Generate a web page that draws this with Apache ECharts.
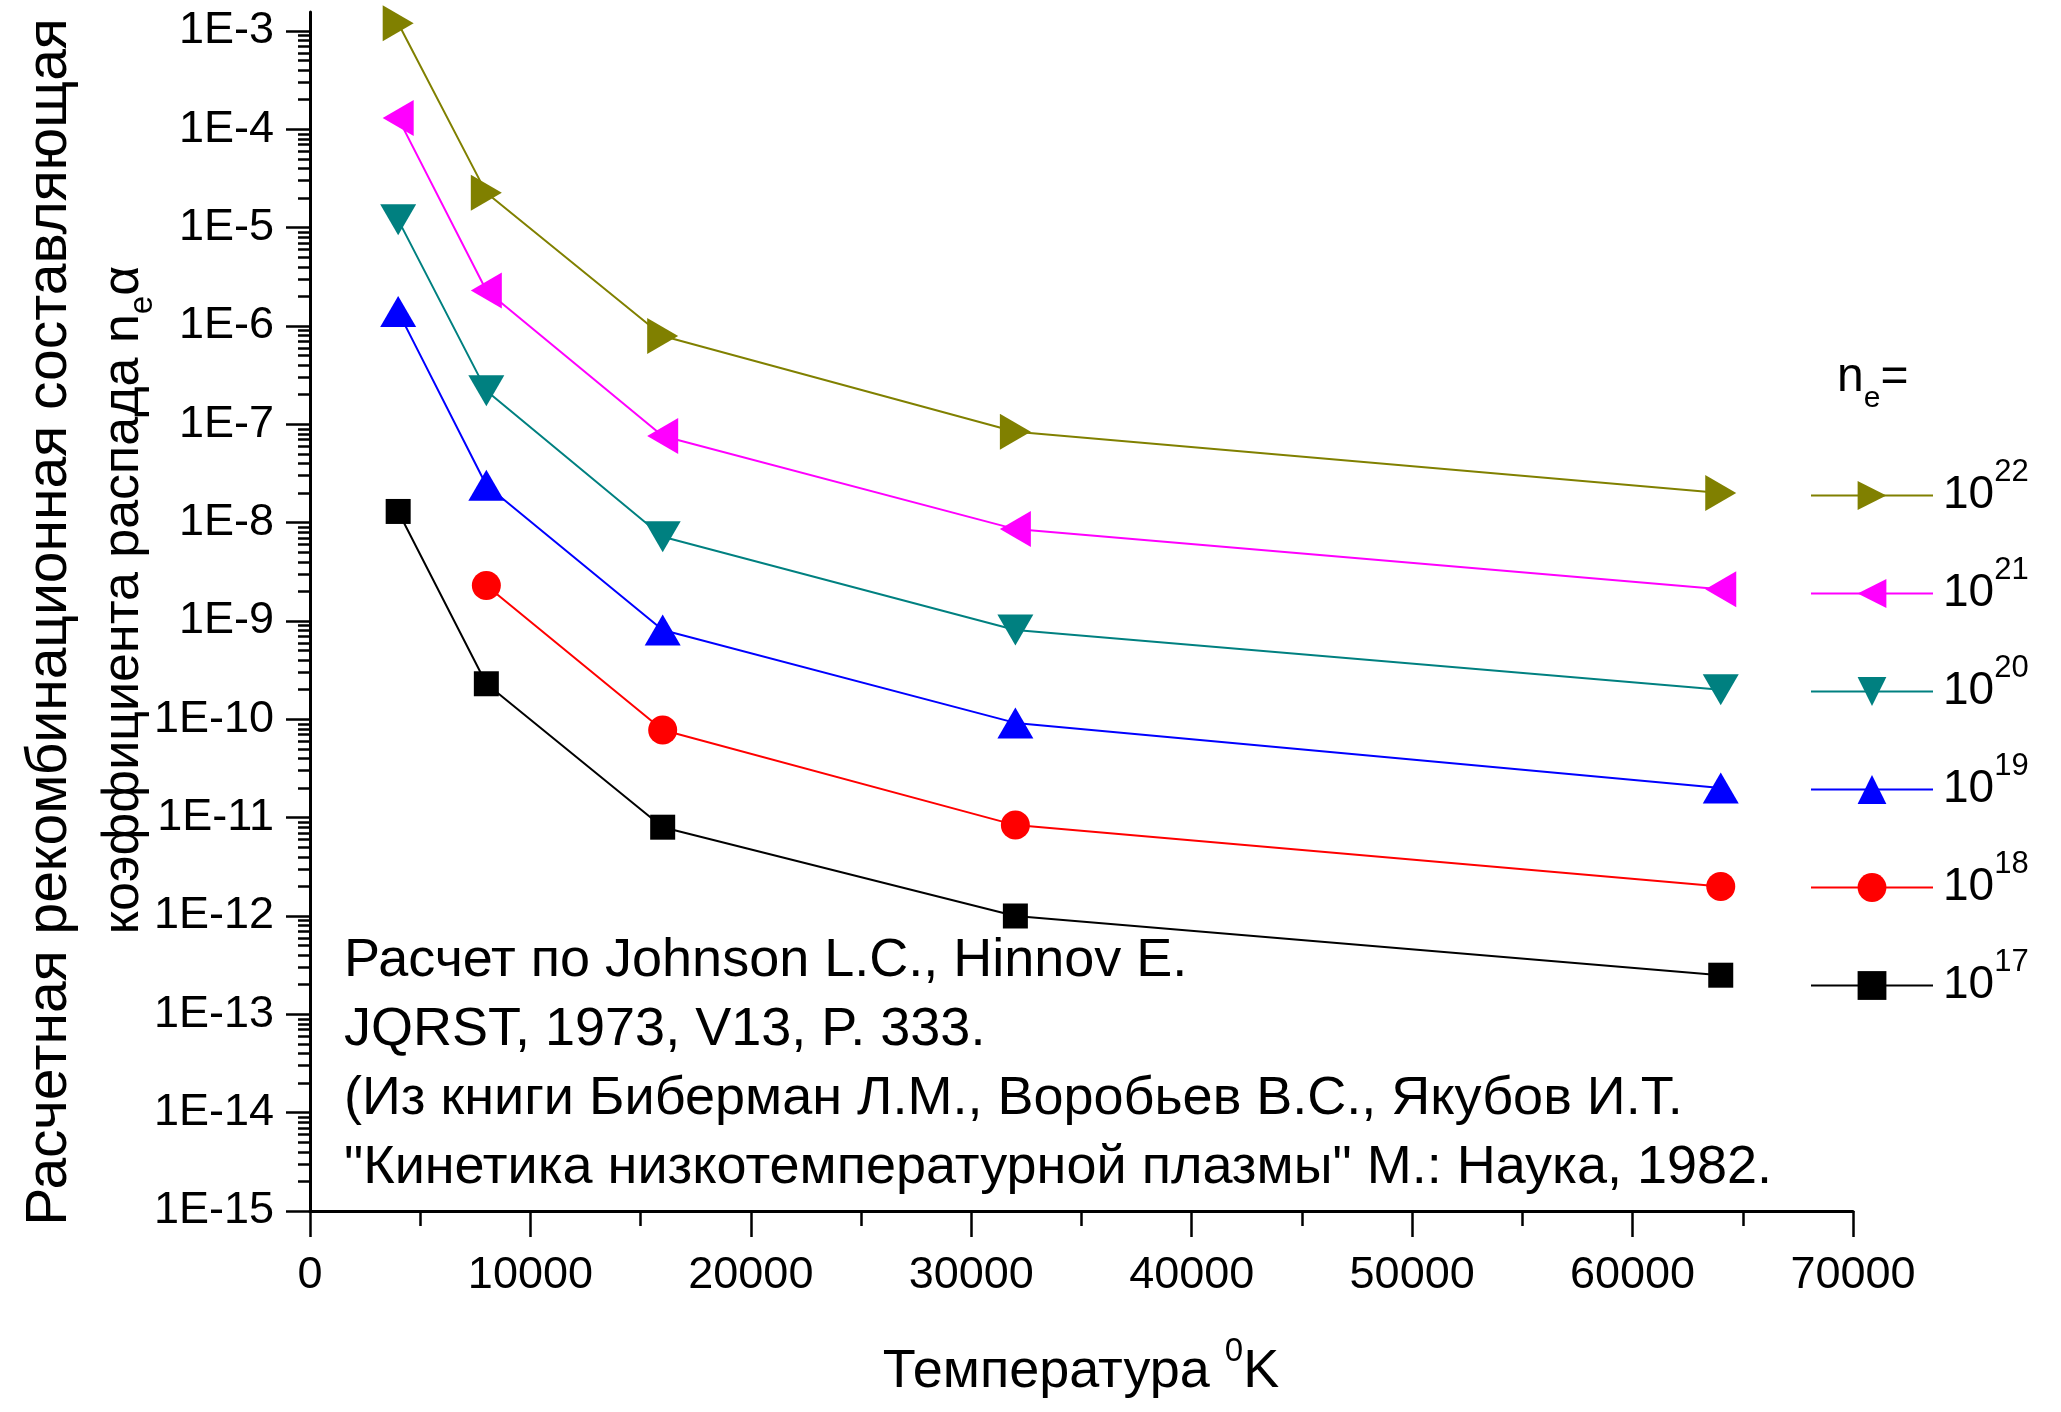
<!DOCTYPE html>
<html>
<head>
<meta charset="utf-8">
<title>Рекомбинационная составляющая коэффициента распада</title>
<script src="https://cdn.jsdelivr.net/npm/echarts@6/dist/echarts.min.js"></script>
<style>
  html, body { margin: 0; padding: 0; background: #ffffff; }
  #chart { width: 2061px; height: 1412px; }
</style>
</head>
<body>
<div id="chart"></div>
<script>
// Temperatures, K
const temperatures = [4000, 8000, 16000, 32000, 64000];

// Recombination component n_e*alpha for each electron density (exponent of n_e in the name)
const ne22 = [1.2e-3, 2.26e-5, 7.9e-7, 8.4e-8, 2.0e-8];
const ne21 = [1.3e-4, 2.3e-6, 7.6e-8, 8.6e-9, 2.1e-9];
const ne20 = [1.2e-5, 2.2e-7, 7.2e-9, 8.1e-10, 2.0e-10];
const ne19 = [1.4e-6, 2.4e-8, 8.1e-10, 9.2e-11, 2.0e-11];
const ne18 = [null, 2.3e-9, 7.8e-11, 8.4e-12, 2.0e-12];
const ne17 = [1.3e-8, 2.3e-10, 8.0e-12, 1.0e-12, 2.5e-13];

const densityExponents = ['22', '21', '20', '19', '18', '17'];

// Axis ticks
const yMajorTicks = [1e-15, 1e-14, 1e-13, 1e-12, 1e-11, 1e-10, 1e-9, 1e-8, 1e-7, 1e-6, 1e-5, 1e-4, 1e-3];
const yTickLabels = ['1E-15', '1E-14', '1E-13', '1E-12', '1E-11', '1E-10', '1E-9', '1E-8', '1E-7', '1E-6', '1E-5', '1E-4', '1E-3'];
const xTickLabels = ['0', '10000', '20000', '30000', '40000', '50000', '60000', '70000'];

const annotationLines = [
  'Расчет по Johnson L.C., Hinnov E.',
  'JQRST, 1973, V13, P. 333.',
  '(Из книги Биберман Л.М., Воробьев В.С., Якубов И.Т.',
  '"Кинетика низкотемпературной плазмы" М.: Наука, 1982.'
];

const FONT = "'Liberation Sans', Arial, Helvetica, sans-serif";
const Y_MIN = 1e-15;
const Y_MAX = 1.56e-3;

// Minor log ticks at 2..9 x 10^n
const yMinorTicks = [];
yMajorTicks.forEach(function (p) {
  for (let m = 2; m <= 9; m++) {
    const v = m * p;
    if (v < Y_MAX) yMinorTicks.push(v);
  }
});

function yLabel(v) {
  const lv = Math.log10(v);
  for (let i = 0; i < yMajorTicks.length; i++) {
    if (Math.abs(Math.log10(yMajorTicks[i]) - lv) < 1e-6) return yTickLabels[i];
  }
  return '';
}

const seriesStyle = {
  '22': { values: ne22, color: '#808000', symbol: 'triangle', rotate: -90, size: [36, 31] },
  '21': { values: ne21, color: '#ff00ff', symbol: 'triangle', rotate: 90, size: [36, 31] },
  '20': { values: ne20, color: '#008080', symbol: 'triangle', rotate: 180, size: [36, 31] },
  '19': { values: ne19, color: '#0000ff', symbol: 'triangle', rotate: 0, size: [36, 31] },
  '18': { values: ne18, color: '#ff0000', symbol: 'circle', rotate: 0, size: 29 },
  '17': { values: ne17, color: '#000000', symbol: 'rect', rotate: 0, size: 25 }
};

const series = densityExponents.map(function (exp) {
  const s = seriesStyle[exp];
  const data = [];
  temperatures.forEach(function (t, i) {
    if (s.values[i] != null) data.push([t, s.values[i]]);
  });
  return {
    name: exp,
    type: 'line',
    xAxisIndex: 0,
    yAxisIndex: 0,
    data: data,
    symbol: s.symbol,
    symbolSize: s.size,
    symbolRotate: s.rotate,
    showAllSymbol: true,
    clip: false,
    color: s.color,
    itemStyle: { color: s.color, opacity: 1 },
    lineStyle: { color: s.color, width: 2 },
    emphasis: { disabled: true },
    z: 3
  };
});

const chart = echarts.init(document.getElementById('chart'), null, { renderer: 'canvas' });

const axisBlack = { color: '#000000', width: 3 };
const tickBlack = { color: '#000000', width: 2.5 };

const option = {
  animation: false,
  backgroundColor: '#ffffff',
  textStyle: { fontFamily: FONT },
  grid: { left: 310, right: 208, top: 12, bottom: 201, containLabel: false, outerBoundsMode: 'none' },
  xAxis: {
    type: 'value',
    min: 0,
    max: 70000,
    interval: 10000,
    axisLine: { show: true, onZero: false, lineStyle: axisBlack },
    axisTick: { show: true, inside: false, length: 26, lineStyle: tickBlack },
    minorTick: { show: true, splitNumber: 2, length: 15, lineStyle: tickBlack },
    axisLabel: {
      margin: 42,
      fontSize: 45,
      fontFamily: FONT,
      color: '#000000',
      formatter: function (v) { return xTickLabels[Math.round(v / 10000)] || ''; }
    },
    splitLine: { show: false },
    minorSplitLine: { show: false }
  },
  yAxis: [
    {
      type: 'log',
      logBase: 10,
      min: Y_MIN,
      max: Y_MAX,
      position: 'left',
      axisLine: { show: true, onZero: false, lineStyle: axisBlack },
      axisTick: { show: true, inside: false, length: 24, customValues: yMajorTicks, lineStyle: tickBlack },
      axisLabel: {
        margin: 36,
        fontSize: 45,
        fontFamily: FONT,
        color: '#000000',
        customValues: yMajorTicks,
        formatter: yLabel
      },
      splitLine: { show: false }
    },
    {
      type: 'log',
      logBase: 10,
      min: Y_MIN,
      max: Y_MAX,
      position: 'left',
      offset: 0,
      axisLine: { show: false, onZero: false },
      axisTick: { show: true, inside: false, length: 12, customValues: yMinorTicks, lineStyle: tickBlack },
      axisLabel: { show: false, customValues: yMinorTicks },
      splitLine: { show: false }
    }
  ],
  legend: {
    show: true,
    orient: 'vertical',
    left: 1810,
    top: 457,
    padding: 0,
    itemWidth: 122,
    itemHeight: 36,
    itemGap: 21,
    selectedMode: false,
    data: densityExponents,
    formatter: function (name) { return '{b|10}{s|' + name + '}'; },
    textStyle: {
      color: '#000000',
      fontFamily: FONT,
      fontSize: 46,
      padding: [0, 0, 0, 5],
      rich: {
        b: { fontSize: 46, fontFamily: FONT, color: '#000000', lineHeight: 52 },
        s: { fontSize: 31, fontFamily: FONT, color: '#000000', lineHeight: 31, padding: [0, 0, 46, 0] }
      }
    }
  },
  graphic: [
    {
      type: 'text',
      x: 50,
      y: 622,
      rotation: Math.PI / 2,
      style: {
        text: 'Расчетная рекомбинационная составляющая',
        fontSize: 57,
        fontFamily: FONT,
        fill: '#000000',
        align: 'center',
        verticalAlign: 'middle'
      }
    },
    {
      type: 'text',
      x: 124,
      y: 600,
      rotation: Math.PI / 2,
      style: {
        text: '{m|коэффициента распада n}{e|e}{m|α}',
        fontFamily: FONT,
        fill: '#000000',
        align: 'center',
        verticalAlign: 'middle',
        rich: {
          m: { fontSize: 52, fontFamily: FONT, fill: '#000000', lineHeight: 58 },
          e: { fontSize: 33, fontFamily: FONT, fill: '#000000', lineHeight: 33, padding: [37, 0, 0, 0] }
        }
      }
    },
    {
      type: 'text',
      x: 1081,
      y: 1372,
      style: {
        text: '{m|Температура }{s|0}{m|K}',
        fontFamily: FONT,
        fill: '#000000',
        align: 'center',
        verticalAlign: 'middle',
        rich: {
          m: { fontSize: 54, fontFamily: FONT, fill: '#000000', lineHeight: 62 },
          s: { fontSize: 33, fontFamily: FONT, fill: '#000000', lineHeight: 33, padding: [0, 0, 40, 0] }
        }
      }
    },
    {
      type: 'text',
      x: 1837,
      y: 378,
      style: {
        text: '{m|n}{e|e}{m|=}',
        fontFamily: FONT,
        fill: '#000000',
        align: 'left',
        verticalAlign: 'middle',
        rich: {
          m: { fontSize: 48, fontFamily: FONT, fill: '#000000', lineHeight: 54 },
          e: { fontSize: 30, fontFamily: FONT, fill: '#000000', lineHeight: 30, padding: [42, 0, 0, 0] }
        }
      }
    }
  ].concat(annotationLines.map(function (line, i) {
    return {
      type: 'text',
      x: 344,
      y: 961 + i * 69,
      style: {
        text: line,
        fontSize: 54,
        fontFamily: FONT,
        fill: '#000000',
        align: 'left',
        verticalAlign: 'middle'
      }
    };
  })),
  series: series
};

chart.setOption(option);
</script>
</body>
</html>
